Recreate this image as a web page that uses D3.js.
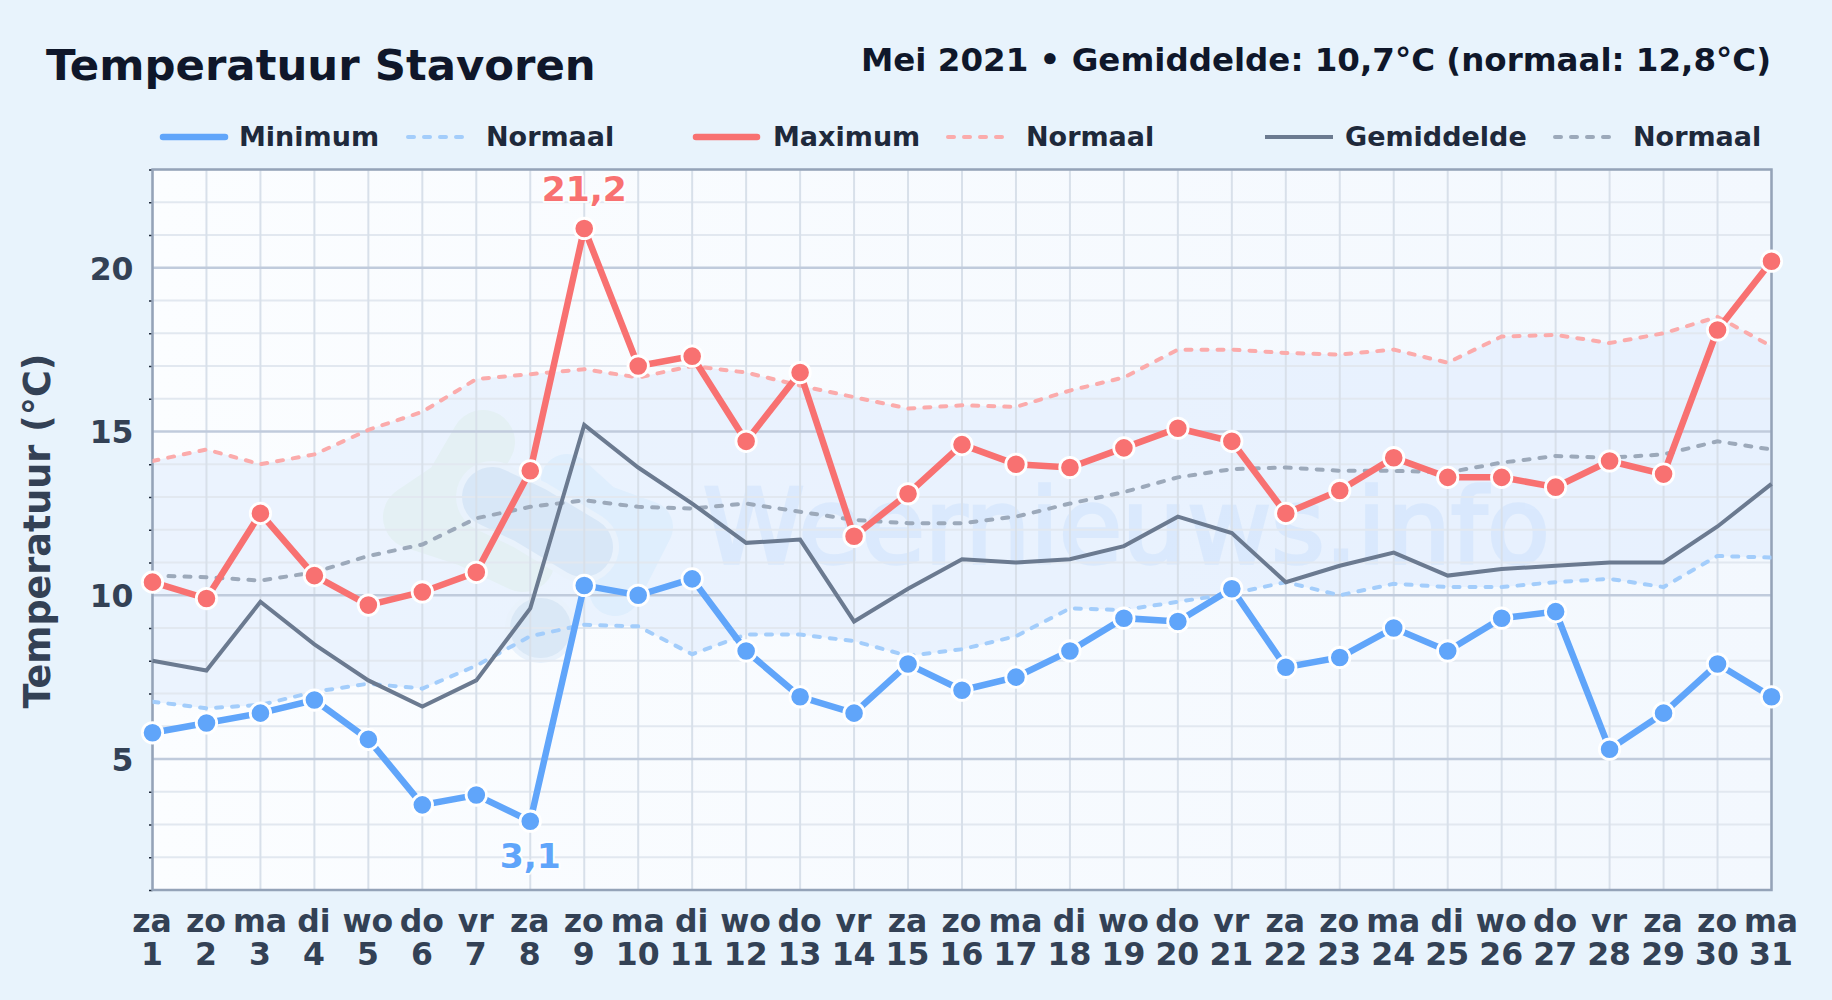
<!DOCTYPE html>
<html><head><meta charset="utf-8">
<script src="https://cdn.jsdelivr.net/npm/d3@7"></script>
<style>html,body{margin:0;padding:0;background:#e8f3fc;overflow:hidden}svg{display:block}text{font-family:"DejaVu Sans",sans-serif;font-weight:700}</style>
</head><body><svg id="c" width="1832" height="1000"></svg>
<script>
const weekdays=["za","zo","ma","di","wo","do","vr","za","zo","ma","di","wo","do","vr","za","zo","ma","di","wo","do","vr","za","zo","ma","di","wo","do","vr","za","zo","ma"];
const dayNumbers=d3.range(1,32);
const minimum=[5.8,6.1,6.4,6.8,5.6,3.6,3.9,3.1,10.3,10.0,10.5,8.3,6.9,6.4,7.9,7.1,7.5,8.3,9.3,9.2,10.2,7.8,8.1,9.0,8.3,9.3,9.5,5.3,6.4,7.9,6.9];
const maximum=[10.4,9.9,12.5,10.6,9.7,10.1,10.7,13.8,21.2,17.0,17.3,14.7,16.8,11.8,13.1,14.6,14.0,13.9,14.5,15.1,14.7,12.5,13.2,14.2,13.6,13.6,13.3,14.1,13.7,18.1,20.2];
const gemiddelde=[8.0,7.7,9.8,8.5,7.4,6.6,7.4,9.6,15.2,13.9,12.8,11.6,11.7,9.2,10.2,11.1,11.0,11.1,11.5,12.4,11.9,10.4,10.9,11.3,10.6,10.8,10.9,11.0,11.0,12.1,13.4];
const normaalMin=[6.75,6.55,6.65,7.05,7.3,7.15,7.85,8.75,9.1,9.05,8.2,8.8,8.8,8.6,8.15,8.35,8.75,9.6,9.55,9.8,10.05,10.4,10.0,10.35,10.25,10.25,10.4,10.5,10.25,11.2,11.15];
const normaalMax=[14.1,14.45,14.0,14.3,15.05,15.6,16.6,16.75,16.9,16.65,17.0,16.8,16.4,16.05,15.7,15.8,15.75,16.25,16.65,17.5,17.5,17.4,17.35,17.5,17.1,17.9,17.95,17.7,18.0,18.5,17.6];
const normaalGem=[10.6,10.55,10.45,10.7,11.2,11.55,12.35,12.7,12.9,12.7,12.65,12.8,12.55,12.3,12.2,12.2,12.4,12.8,13.15,13.6,13.85,13.9,13.8,13.8,13.75,14.05,14.25,14.2,14.3,14.7,14.45];
const yMajor=[5,10,15,20];
const legendLabels=["Minimum","Normaal","Maximum","Normaal","Gemiddelde","Normaal"];

const L=152.5,R=1771.5,T=169.5,B=890;
const svg=d3.select("#c");
const x=d3.scaleLinear().domain([1,31]).range([L,R]);
const y=d3.scaleLinear().domain([1,23]).range([B,T]);
const C={min:"#60a5fa",max:"#f87171",avg:"#6b7a90",nmin:"#a3cdfb",nmax:"#fbabab",navg:"#9ca9ba"};
const DASH="6 10";
const defs=svg.append("defs");
const bg=defs.append("linearGradient").attr("id","plotbg").attr("x1",0).attr("x2",1).attr("y1",0).attr("y2",0);
bg.append("stop").attr("offset",0).attr("stop-color","#fbfdff");
bg.append("stop").attr("offset",1).attr("stop-color","#f3f8fe");
defs.append("clipPath").attr("id","plot").append("rect").attr("x",L).attr("y",T).attr("width",R-L).attr("height",B-T);

svg.append("rect").attr("width",1832).attr("height",1000).attr("fill","#e8f3fc");
svg.append("rect").attr("x",L).attr("y",T).attr("width",R-L).attr("height",B-T).attr("fill","url(#plotbg)");

// band between the normal min and max
svg.append("path").datum(dayNumbers).attr("fill","#dbeafe").attr("opacity",.5)
 .attr("d",d3.area().x(d=>x(d)).y0((d,i)=>y(normaalMin[i])).y1((d,i)=>y(normaalMax[i])));

// watermark
const wm=svg.append("g").attr("clip-path","url(#plot)");
const logo=wm.append("g").attr("fill","none").attr("stroke-linecap","round").attr("stroke-linejoin","round");
const blob=(d,c,w)=>logo.append("path").attr("d",d).attr("stroke",c).attr("stroke-width",w);
blob("M483 442L455 490L415 517L470 535L523 560","#e4f0f4",64);
blob("M567 480L600 510L647 527L615 590","#dfeefd",52);
const darkArm="M492 497L530 515L583 547", darkFoot="M540 628L541 628";
blob(darkArm,"#e9f2fc",72); blob(darkFoot,"#e9f2fc",70);
blob(darkArm,"#d8e7f7",60); blob(darkFoot,"#dae8f6",60);
wm.append("text").attr("x",703).attr("y",563).attr("font-size",102.7).style("font-weight",400)
  .attr("fill","#60a5fa").attr("stroke","#60a5fa").attr("stroke-width",3.5).attr("opacity",.1).text("Weernieuws.info");

// grid
const grid=svg.append("g");
grid.selectAll(".m").data(d3.range(1,24).filter(v=>!yMajor.includes(v))).join("line")
 .attr("x1",L).attr("x2",R).attr("y1",d=>y(d)).attr("y2",d=>y(d)).attr("stroke","#e2e8f0").attr("stroke-width",2);
grid.selectAll(".v").data(dayNumbers).join("line")
 .attr("x1",d=>x(d)).attr("x2",d=>x(d)).attr("y1",T).attr("y2",B).attr("stroke","#d8e0ea").attr("stroke-width",2);
grid.selectAll(".j").data(yMajor).join("line")
 .attr("x1",L).attr("x2",R).attr("y1",d=>y(d)).attr("y2",d=>y(d)).attr("stroke","#c0cbdc").attr("stroke-width",2.5);

// axes
const yax=svg.append("g").attr("transform",`translate(${L},0)`).call(d3.axisLeft(y).tickValues(d3.range(1,24)).tickSize(3.5).tickFormat(d=>yMajor.includes(d)?d:""));
yax.select(".domain").remove();
yax.selectAll(".tick line").attr("stroke",d=>yMajor.includes(d)?"none":"#1e293b").attr("stroke-width",1.5);
yax.selectAll(".tick text").attr("x",-19).attr("dy",".36em").attr("font-size",31.5).attr("fill","#334155");
const xax=svg.append("g").attr("transform",`translate(0,${B})`).call(d3.axisBottom(x).tickValues(dayNumbers).tickSize(0).tickFormat(""));
xax.select(".domain").remove();
xax.selectAll(".tick text").each(function(d,i){
  const t=d3.select(this).attr("y",0).attr("dy",0).attr("font-size",31.5).attr("fill","#334155");
  t.append("tspan").attr("x",-1).attr("y",42).text(weekdays[i]);
  t.append("tspan").attr("x",-1).attr("y",74.5).text(d);
});
svg.append("rect").attr("x",L).attr("y",T).attr("width",R-L).attr("height",B-T).attr("fill","none").attr("stroke","#94a3b8").attr("stroke-width",2.5);

// lines
const line=a=>d3.line().x(d=>x(d)).y((d,i)=>y(a[i]))(dayNumbers);
const series=[
 [normaalMin,C.nmin,4,DASH],[normaalMax,C.nmax,4,DASH],[normaalGem,C.navg,4,DASH],
 [gemiddelde,C.avg,4,null],[minimum,C.min,6.5,null],[maximum,C.max,6.5,null]];
series.forEach(([a,c,w,dash])=>{
  svg.append("path").attr("d",line(a)).attr("fill","none").attr("stroke",c).attr("stroke-width",w)
   .attr("stroke-dasharray",dash).attr("stroke-linecap",dash?"round":"butt").attr("stroke-linejoin","miter").attr("clip-path",dash?"url(#plot)":null);
});
[[minimum,C.min],[maximum,C.max]].forEach(([a,c])=>{
  svg.append("g").selectAll("circle").data(dayNumbers).join("circle")
   .attr("cx",d=>x(d)).attr("cy",(d,i)=>y(a[i])).attr("r",10.2).attr("fill",c).attr("stroke","#fff").attr("stroke-width",2.8);
});

// extreme labels
const fmt=v=>String(v).replace(".",",");
const iMax=d3.maxIndex(maximum), iMin=d3.minIndex(minimum);
const ann=(v,i,c,yy)=>svg.append("text").attr("x",x(dayNumbers[i])).attr("y",yy).attr("text-anchor","middle").attr("font-size",34.5)
  .attr("fill",c).attr("stroke","#fff").attr("stroke-width",4).attr("stroke-opacity",.85).attr("stroke-linejoin","round").attr("paint-order","stroke").text(fmt(v));
ann(maximum[iMax],iMax,C.max,201);
ann(minimum[iMin],iMin,C.min,867.5);

// titles
svg.append("text").attr("x",46).attr("y",79.5).attr("font-size",43.4).attr("fill","#0f172a").text("Temperatuur Stavoren");
svg.append("text").attr("x",1771).attr("y",70.7).attr("text-anchor","end").attr("font-size",32.5).attr("fill","#0f172a").text("Mei 2021 • Gemiddelde: 10,7°C (normaal: 12,8°C)");
svg.append("text").attr("transform",`translate(50,531) rotate(-90)`).attr("text-anchor","middle").attr("font-size",36.5).attr("fill","#334155").text("Temperatuur (°C)");

// legend
const legendLayout=[[163,225,239],[408,464,486],[696,757,773],[948,1005,1026],[1265,1333,1345],[1555,1618,1633]];
const legendStyle=[[C.min,6.5,null],[C.nmin,4,DASH],[C.max,6.5,null],[C.nmax,4,DASH],[C.avg,4,null],[C.navg,4,DASH]];
legendLabels.forEach((t,i)=>{
  const [a,b,c]=legendLayout[i],[col,w,dash]=legendStyle[i];
  svg.append("line").attr("x1",a).attr("x2",b).attr("y1",137).attr("y2",137).attr("stroke",col).attr("stroke-width",w)
    .attr("stroke-linecap",i===4?"butt":"round").attr("stroke-dasharray",dash);
  svg.append("text").attr("x",c).attr("y",146).attr("font-size",27).attr("fill","#1e293b").text(t);
});
</script></body></html>
